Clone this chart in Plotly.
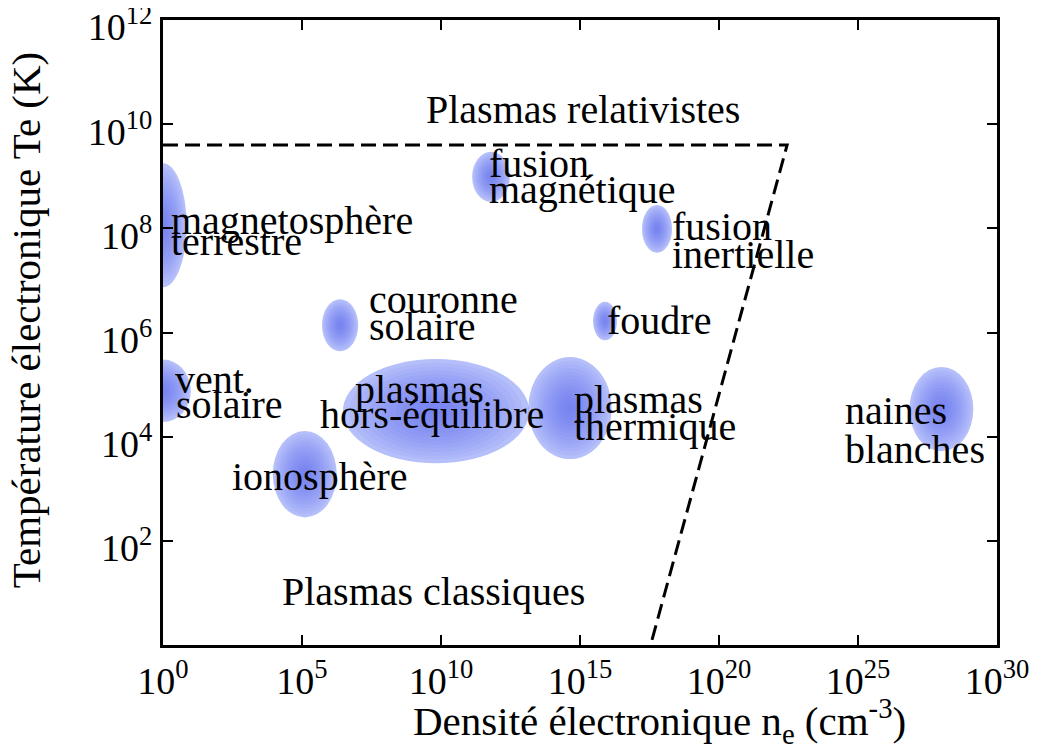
import plotly.graph_objects as go

# ---- data (log10 units) ----
blob_names = ["magnetosphère terrestre", "vent solaire", "couronne solaire", "ionosphère",
              "plasmas hors-équilibre", "plasmas thermique", "fusion magnétique",
              "fusion inertielle", "foudre", "naines blanches"]
blob_log_ne = [0.0, 0.0, 6.37, 5.1, 9.82, 14.64, 11.8, 17.77, 15.9, 28.0]
blob_log_Te = [8.06, 4.88, 6.14, 3.28, 4.49, 4.55, 8.99, 7.99, 6.22, 4.53]
blob_half_ne = [0.85, 1.0, 0.65, 1.15, 3.35, 1.5, 0.68, 0.54, 0.43, 1.15]
blob_half_Te = [1.19, 0.6, 0.5, 0.83, 1.0, 0.98, 0.48, 0.46, 0.37, 0.81]

label_text = ["Plasmas relativistes", "fusion", "magnétique", "fusion", "inertielle",
              "foudre", "magnetosphère", "terrestre", "couronne", "solaire",
              "vent.", "solaire", "plasmas", "hors-équilibre", "ionosphère",
              "plasmas", "thermique", "naines", "blanches", "Plasmas classiques"]
label_log_ne = [9.39, 11.65, 11.65, 18.24, 18.24, 15.9, 0.2, 0.2, 7.34, 7.34,
                0.35, 0.38, 6.83, 5.58, 2.41, 14.71, 14.71, 24.46, 24.46, 4.21]
label_log_Te = [10.29, 9.24, 8.74, 8.03, 7.49, 6.24, 8.16, 7.74, 6.64, 6.11,
                5.09, 4.61, 4.9, 4.42, 3.23, 4.72, 4.19, 4.51, 3.76, 1.02]

# relativistic / degenerate boundary (dashed)
boundary_log_ne = [0.0, 22.45, 17.54]
boundary_log_Te = [9.6, 9.6, 0.0]

x_tick_exp = [0, 5, 10, 15, 20, 25, 30]
y_tick_exp = [2, 4, 6, 8, 10, 12]

FONT = "Liberation Serif, Times New Roman, serif"

fig = go.Figure()

fig.add_trace(go.Scatter(
    x=[10.0 ** v for v in boundary_log_ne],
    y=[10.0 ** v for v in boundary_log_Te],
    mode="lines",
    line=dict(color="black", width=3, dash="15px,7px"),
    showlegend=False, hoverinfo="skip"))

# soft blue blobs: stacked concentric ellipses
n_layers = 14
for cx, cy, hx, hy in zip(blob_log_ne, blob_log_Te, blob_half_ne, blob_half_Te):
    for i in range(n_layers):
        s = 1.0 - i / n_layers
        fill = "rgba(120,138,246,0.55)" if i == 0 else "rgba(80,100,240,0.07)"
        fig.add_shape(type="circle", xref="x", yref="y",
                      x0=10.0 ** (cx - hx * s), x1=10.0 ** (cx + hx * s),
                      y0=10.0 ** (cy - hy * s), y1=10.0 ** (cy + hy * s),
                      fillcolor=fill, line=dict(width=0), layer="below")

for t, lx, ly in zip(label_text, label_log_ne, label_log_Te):
    fig.add_annotation(x=lx, y=ly, xref="x", yref="y", text=t, showarrow=False,
                       xanchor="left", yanchor="middle",
                       font=dict(family=FONT, size=40, color="black"))

# axis titles
fig.add_annotation(x=0.595, y=-0.122, xref="paper", yref="paper",
                   text="Densité électronique n<sub>e</sub> (cm<sup>-3</sup>)",
                   showarrow=False, xanchor="center", yanchor="middle",
                   font=dict(family=FONT, size=41, color="black"))
fig.add_annotation(x=-0.164, y=0.52, xref="paper", yref="paper",
                   text="Température électronique Te (K)", textangle=-90,
                   showarrow=False, xanchor="center", yanchor="middle",
                   font=dict(family=FONT, size=41, color="black"))

fig.update_xaxes(type="log", range=[0, 30],
                 tickvals=[10.0 ** e for e in x_tick_exp],
                 ticktext=["10<sup>%d</sup>" % e for e in x_tick_exp],
                 ticks="inside", ticklen=10, tickwidth=2, tickcolor="black",
                 showline=True, linewidth=3, linecolor="black", mirror="ticks",
                 showgrid=False, zeroline=False,
                 tickfont=dict(family=FONT, size=38, color="black"))
fig.update_yaxes(type="log", range=[0, 12.001],
                 tickvals=[10.0 ** e for e in y_tick_exp],
                 ticktext=["10<sup>%d</sup>" % e for e in y_tick_exp],
                 ticks="inside", ticklen=10, tickwidth=2, tickcolor="black",
                 showline=True, linewidth=3, linecolor="black", mirror="ticks",
                 showgrid=False, zeroline=False,
                 tickfont=dict(family=FONT, size=38, color="black"),
                 ticklabelshift=7, ticklabeloverflow="allow")

# page body has an 8px default margin: size the figure so the plot lands in place
fig.update_layout(width=1051, height=736,
                  margin=dict(l=155, r=62, t=12, b=99, autoexpand=False),
                  paper_bgcolor="white", plot_bgcolor="white",
                  showlegend=False)

fig.write_html("out.html")
